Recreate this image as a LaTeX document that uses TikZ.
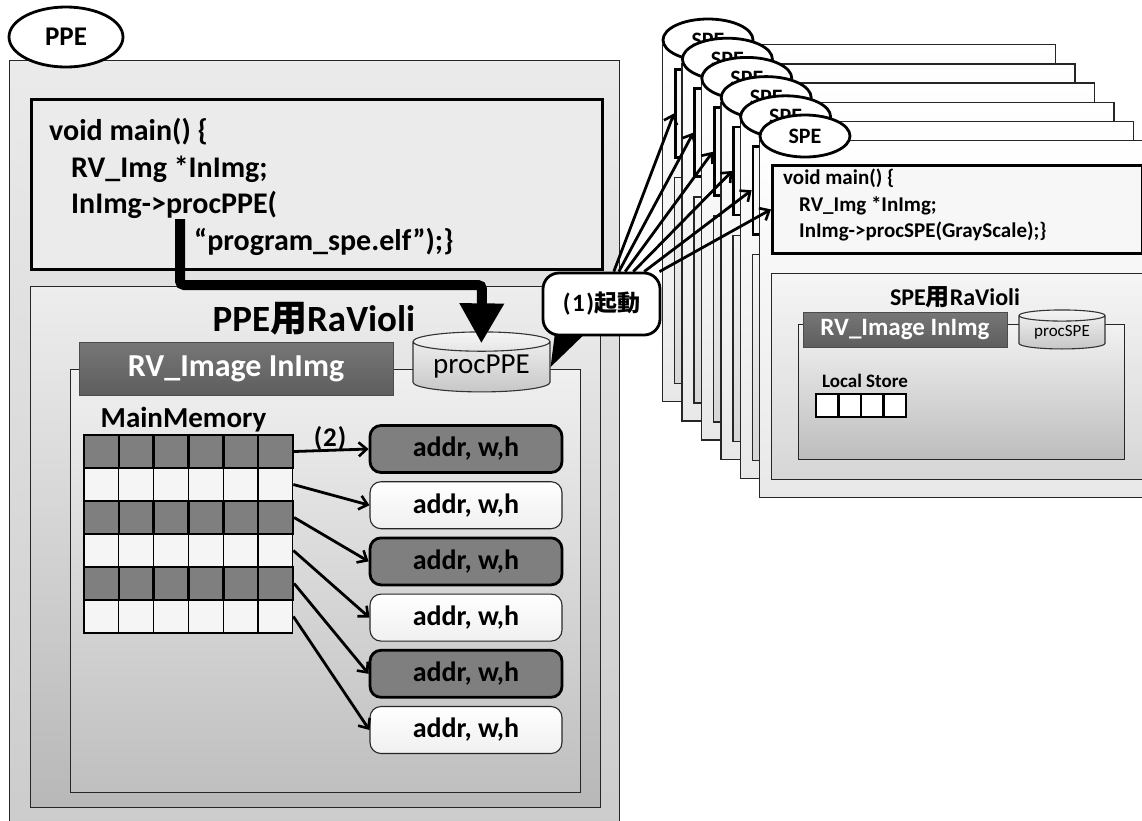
\documentclass[tikz,border=0pt]{standalone}
\usepackage{fontspec}
\setmainfont{Carlito}
\newfontfamily\cjk{Noto Sans CJK JP}
\usetikzlibrary{positioning,shapes.geometric,arrows.meta}

\definecolor{cellDark}{HTML}{7F7F7F}
\definecolor{cellLight}{HTML}{F5F5F5}
\definecolor{imgDark}{HTML}{5E5E5E}
\newcommand{\fsz}[2]{\fontsize{#1}{#2}\selectfont}

\begin{document}
\begin{tikzpicture}[x=1pt,y=-1pt,
    every node/.style={inner sep=0pt, font=\bfseries},
    thinbox/.style={draw=black!85, line width=1.3pt},
    codebox/.style={draw=black, line width=2.8pt},
    imgbox/.style={draw=black!70, line width=1pt, top color=imgDark!85, bottom color=imgDark, text=white},
    addrdark/.style={draw=black, line width=2.8pt, fill=cellDark, rounded corners=11pt, minimum width=192pt, minimum height=47pt, font=\bfseries\fsz{28}{32}},
    addrlight/.style={draw=black!85, line width=1.1pt, top color=white, bottom color=black!6, rounded corners=11pt, minimum width=192pt, minimum height=47pt, font=\bfseries\fsz{28}{32}},
    cellbox/.style={minimum width=34.8pt, minimum height=33pt, draw=black},
    link/.style={-{Straight Barb[length=8pt,width=14pt,line width=2.6pt]}, line width=2.8pt},
    store/.style={cylinder, shape border rotate=90, draw=black!80, line width=1.1pt, top color=black!4, bottom color=black!22, font=\mdseries},
    tagoval/.style={ellipse, draw=black, line width=2.8pt, fill=white},
  ]
  \useasboundingbox (0,0) rectangle (1142,820);

  % PPE side
  \node[thinbox, top color=black!8, bottom color=black!20, minimum width=610, minimum height=770, anchor=north west] (ppe) at (9,60) {};
  \node[tagoval, minimum width=114, minimum height=60, font=\bfseries\fsz{27}{32}] (ppetag) at (66,37) {PPE};
  \node[codebox, fill=black!8, minimum width=571, minimum height=170, anchor=north west] (ppecode) at (30,98) {};
  \node[anchor=base west, font=\bfseries\fsz{30}{36}] (pl1) at (49,140) {void main() \{};
  \node[anchor=base west, font=\bfseries\fsz{30}{36}] (pl2) at (71,177) {RV\_Img *InImg;};
  \node[anchor=base west, font=\bfseries\fsz{30}{36}] (pl3) at (71,213) {InImg->procPPE(};
  \node[anchor=base west, font=\bfseries\fsz{30}{36}] (pl4) at (194,250) {“program\_spe.elf”);\}};

  \node[thinbox, top color=black!7, bottom color=black!28, minimum width=570, minimum height=521, anchor=north west] (pperv) at (30,286) {};
  \node[thinbox, top color=black!6, bottom color=black!25, minimum width=510, minimum height=423, anchor=north west] (ppein) at (70,369) {};
  \node[anchor=base, font=\bfseries\fsz{37}{42}] (ppetitle) at (314,331) {PPE{\cjk 用}RaVioli};
  \node[imgbox, minimum width=314, minimum height=53, font=\bfseries\fsz{32}{36}] (ppeimg) at (236,368.5) {RV\_Image InImg};
  \node[store, minimum width=137, minimum height=60, aspect=0.2, font=\mdseries\fsz{29}{32}] (proc) at (481.5,367) {procPPE};
  \node[anchor=base, font=\bfseries\fsz{29}{32}] (mainmem) at (183.5,427) {MainMemory};

  % main memory rows
  \foreach \r in {1,3,5}
    \foreach \c in {0,...,5}
      \node[cellbox, fill=cellLight, line width=1.1pt] (cell-\r-\c) at (101.4+34.8*\c,451.5+33*\r) {};
  \foreach \r in {0,2,4}
    \foreach \c in {0,...,5}
      \node[cellbox, fill=cellDark, line width=2.6pt] (cell-\r-\c) at (101.4+34.8*\c,451.5+33*\r) {};

  \foreach \r in {0,2,4}
    \node[addrdark] (addr\r) at (466,449+56.2*\r) {addr, w,h};
  \foreach \r in {1,3,5}
    \node[addrlight] (addr\r) at (466,449+56.2*\r) {addr, w,h};
  \foreach \r in {0,...,5}
    \draw[link] (cell-\r-5.east) -- (addr\r.west);
  \node[font=\bfseries\fsz{27}{30}] (step2) at (330,439) {(\kern1pt2\kern1pt)};

  \coordinate (callsite) at (180,219);
  \coordinate (bend) at (482,285);
  \draw[line width=10pt, rounded corners=4pt, shorten >=-12pt, -{Triangle[length=40pt,width=42pt]}] (callsite) |- (bend) -- (proc.north);

  % SPE stack
  \foreach \k in {0,...,5}{
    \begin{scope}[shift={(662+19.4*\k,44+19.2*\k)}]
      \node[thinbox, top color=white, bottom color=black!9, minimum width=393, minimum height=357, anchor=north west] (spe\k) at (0,0) {};
      \node[codebox, fill=black!3, minimum width=370, minimum height=88, anchor=north west] (spec\k) at (12,24) {};
      \node[thinbox, top color=black!4, bottom color=black!16, minimum width=371, minimum height=206, anchor=north west] (sperv\k) at (12,133) {};
      \node[tagoval, minimum width=90, minimum height=42, font=\bfseries\fsz{22}{26}] (spetag\k) at (46,-4) {SPE};
    \end{scope}
  }
  \node[anchor=base west, font=\bfseries\fsz{21}{25}] (sl1) at (783,184) {void main() \{};
  \node[anchor=base west, font=\bfseries\fsz{21}{25}] (sl2) at (799,211) {RV\_Img *InImg;};
  \node[anchor=base west, font=\bfseries\fsz{21}{25}] (sl3) at (799,237) {InImg->procSPE(GrayScale);\}};
  \node[thinbox, top color=black!5, bottom color=black!26, minimum width=326, minimum height=135, anchor=north west] (spein) at (798,324) {};
  \node[anchor=base, font=\bfseries\fsz{24}{28}] (spetitle) at (955,305) {SPE{\cjk 用}RaVioli};
  \node[imgbox, minimum width=204, minimum height=35, font=\bfseries\fsz{25}{28}] (speimg) at (905,329.5) {RV\_Image InImg};
  \node[store, minimum width=86, minimum height=39, aspect=0.2, font=\mdseries\fsz{17}{20}] (sproc) at (1062,332.5) {procSPE};
  \node[anchor=base, font=\bfseries\fsz{19}{22}] (local) at (865,387) {Local Store};
  \foreach \i in {0,...,3}
    \node[draw=black, line width=2.4pt, fill=white, minimum width=22.5, minimum height=23] (ls\i) at (827.25+22.5*\i,405.5) {};

  % launch callout
  \fill[black] (556,325) -- (594,325) -- (proc.east) -- cycle;
  \node[draw=black, line width=2.8pt, fill=white, rounded corners=16pt, minimum width=117, minimum height=62, font=\bfseries\fsz{23}{26}] (call) at (601.5,304) {{\fsz{25}{26}(\kern1.5pt1\kern1.5pt)}{\cjk 起動}};
  \foreach \k in {0,...,5}
    \draw[link] (call) -- (spec\k.west);
\end{tikzpicture}
\end{document}
